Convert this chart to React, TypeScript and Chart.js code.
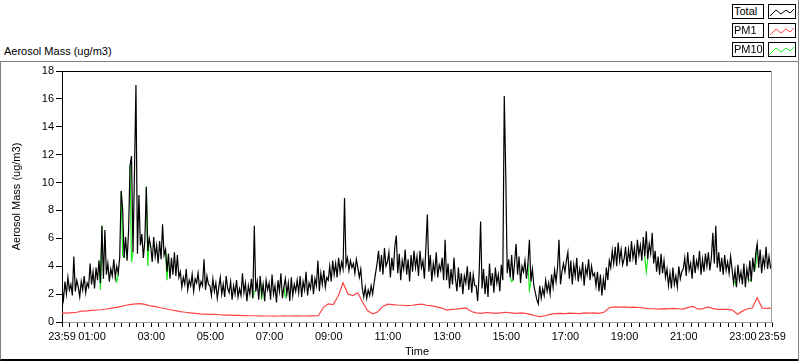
import React, { useEffect, useRef } from 'react';
import { Chart, registerables } from 'chart.js';

Chart.register(...registerables);

// Minutes between samples, counted from the 23:59 start of the axis
const TOTAL_STEP_MIN = 3;
const PM10_STEP_MIN = 3;
const PM1_STEP_MIN = 10;

// Total aerosol mass (ug/m3), one row per hour starting at 23:59
const TOTAL = [
  2.4, 1.6, 2.9, 2.0, 3.2, 2.3, 2.7, 1.9, 4.7, 2.2, 3.0, 2.5, 1.8, 2.9, 2.3, 3.3, 2.1, 2.8, 2.5, 4.2,
  2.7, 3.6, 2.4, 3.9, 3.0, 4.4, 2.8, 6.9, 3.1, 6.6, 3.4, 4.2, 2.9, 3.8, 3.3, 4.5, 3.2, 4.0, 3.5, 4.6,
  9.4, 8.1, 4.6, 6.1, 4.4, 6.5, 11.2, 11.9, 5.0, 10.8, 17.0, 4.9, 9.1, 5.5, 6.3, 4.6, 5.8, 9.7, 5.1, 6.0,
  5.4, 4.3, 6.1, 4.7, 5.5, 4.2, 5.8, 4.5, 7.0, 4.8, 5.2, 3.6, 4.9, 3.1, 4.6, 3.4, 5.0, 3.3, 4.8, 3.2,
  3.6, 2.5, 3.2, 2.7, 3.8, 2.3, 3.0, 2.6, 3.4, 2.2, 3.1, 2.8, 3.5, 2.4, 2.9, 2.6, 4.5, 2.3, 3.3, 2.7,
  2.6, 1.9, 3.1, 2.2, 2.8, 1.7, 2.5, 3.2, 2.0, 2.7, 1.8, 3.3, 2.4, 2.1, 2.9, 1.6, 2.6, 2.0, 3.0, 1.8,
  2.4, 1.9, 3.5, 2.1, 2.8, 1.5, 2.6, 2.0, 3.1, 1.7, 6.9, 2.2, 2.9, 1.6, 3.3, 2.0, 2.7, 1.5, 3.0, 2.3,
  2.8, 1.6, 3.4, 2.0, 2.6, 1.4, 3.0, 2.2, 3.5, 1.7, 2.5, 3.1, 2.0, 2.8, 1.5, 3.2, 1.9, 2.7, 2.2, 3.0,
  2.1, 3.3, 1.8, 2.9, 2.3, 3.6, 1.9, 2.8, 2.4, 3.4, 2.0, 3.1, 2.6, 4.4, 2.2, 3.5, 2.7, 3.7, 2.5, 3.2,
  3.0, 4.0, 2.9, 4.4, 3.4, 4.2, 3.2, 4.6, 3.6, 4.3, 3.8, 8.9, 4.1, 4.6, 3.7, 4.4, 3.9, 4.2, 3.5, 4.5,
  3.9, 3.2, 3.8, 2.4, 1.8, 2.5, 1.7, 2.3, 1.9, 2.6, 2.0, 2.8, 3.5, 4.2, 5.1, 3.6, 4.8, 3.4, 5.3, 4.0,
  4.3, 5.0, 3.2, 4.6, 3.7, 5.4, 6.2, 3.5, 4.9, 3.0, 4.4, 3.8, 5.2, 3.4, 4.5, 2.9, 4.8, 3.6, 5.1, 3.9,
  4.7, 3.3, 5.1, 3.9, 4.4, 3.1, 5.3, 7.7, 3.6, 4.8, 2.9, 4.2, 3.5, 5.0, 3.2, 4.1, 3.7, 4.6, 3.0, 5.9,
  3.0, 4.2, 2.4, 3.8, 2.7, 4.6, 3.1, 2.2, 3.9, 2.5, 3.5, 2.0, 3.3, 2.8, 4.0, 2.3, 3.6, 2.1, 3.4, 2.6,
  2.6, 1.5, 3.4, 7.2, 2.4, 3.8, 2.0, 3.3, 1.8, 4.2, 2.6, 3.5, 2.1, 3.9, 2.8, 3.4, 2.2, 4.1, 3.0, 16.2,
  10.6, 3.5, 4.5, 3.2, 4.8, 3.0, 4.3, 5.6, 3.4, 4.7, 2.8, 4.0, 3.6, 4.4, 3.1, 4.2, 5.9, 2.9, 3.8, 2.6,
  2.1, 1.6, 1.3, 2.6, 1.7, 2.4, 1.9, 3.0, 2.2, 2.8, 2.0, 3.4, 2.5, 3.7, 2.9, 3.9, 5.9, 2.7, 3.6, 4.2,
  3.6, 4.4, 5.0, 3.1, 4.4, 2.7, 4.1, 3.3, 4.6, 2.9, 3.8, 3.2, 4.3, 2.6, 3.9, 3.4, 4.5, 3.0, 4.0, 3.3,
  3.5, 2.6, 3.6, 2.2, 3.4, 1.9, 3.1, 2.3, 3.9, 3.0, 4.4, 3.9, 5.1, 4.2, 5.4, 4.0, 5.7, 4.4, 5.2, 4.1,
  4.5, 5.4, 4.0, 5.2, 4.3, 5.8, 4.6, 5.3, 4.1, 5.9, 4.8, 5.5, 4.4, 6.1, 4.7, 6.5, 4.5, 5.6, 4.9, 6.4,
  4.2, 5.1, 3.6, 4.7, 3.4, 4.9, 3.5, 4.4, 3.2, 3.8, 2.6, 3.5, 2.4, 3.9, 2.7, 3.3, 2.5, 4.0, 3.1, 3.6,
  3.8, 4.6, 3.3, 5.0, 3.7, 4.2, 3.1, 4.8, 3.5, 4.4, 3.9, 5.1, 3.4, 4.5, 3.6, 4.9, 4.0, 5.0, 3.7, 4.6,
  6.4, 4.2, 6.9, 3.9, 5.0, 3.6, 4.6, 3.4, 4.8, 3.7, 4.3, 3.5, 4.7, 3.8, 2.8, 3.7, 2.5, 4.1, 3.0, 3.6,
  2.7, 4.2, 2.5, 3.8, 3.1, 4.4, 2.9, 4.6, 3.6, 4.9, 5.6, 3.9, 5.2, 3.5, 4.6, 4.0, 5.4, 3.8, 4.7, 3.9,
  4.1,
];

// PM10 (ug/m3): runs under Total almost everywhere, dipping below it at a few samples
const PM10 = [
  2.4, 1.6, 2.9, 2.0, 3.2, 2.3, 2.7, 1.9, 4.7, 2.2, 3.0, 2.5, 1.8, 2.9, 2.3, 3.3, 2.1, 2.8, 2.5, 4.2,
  2.7, 3.6, 2.4, 3.9, 3.0, 4.4, 2.3, 6.9, 3.1, 6.6, 3.4, 4.2, 2.9, 3.8, 3.3, 4.5, 3.2, 2.9, 3.5, 4.6,
  9.4, 4.8, 4.6, 6.1, 4.4, 6.5, 11.2, 4.3, 5.0, 10.8, 17.0, 4.9, 9.1, 5.5, 6.3, 4.6, 5.8, 9.7, 4.0, 6.0,
  5.4, 4.3, 6.1, 4.7, 5.5, 4.2, 5.8, 4.5, 7.0, 4.8, 5.2, 3.0, 4.9, 3.1, 4.6, 3.4, 5.0, 3.3, 4.8, 3.2,
  3.6, 2.5, 3.2, 2.7, 3.8, 2.3, 3.0, 2.6, 3.4, 2.2, 3.1, 2.8, 3.5, 2.4, 2.9, 2.6, 4.5, 2.3, 3.3, 2.7,
  2.6, 1.9, 3.1, 2.2, 2.8, 1.7, 2.5, 3.2, 2.0, 2.7, 1.8, 3.3, 2.4, 2.1, 2.9, 1.6, 2.6, 2.0, 3.0, 1.8,
  2.4, 1.9, 3.5, 2.1, 2.8, 1.5, 2.6, 2.0, 3.1, 1.7, 2.2, 2.2, 2.9, 1.6, 3.3, 1.6, 2.7, 1.5, 3.0, 2.3,
  2.8, 1.6, 3.4, 2.0, 2.6, 1.4, 3.0, 2.2, 3.5, 1.7, 2.5, 1.8, 2.0, 2.8, 1.5, 3.2, 1.9, 2.7, 2.2, 3.0,
  2.1, 3.3, 1.8, 2.9, 2.3, 3.6, 1.9, 2.8, 2.4, 3.4, 2.0, 3.1, 2.6, 4.4, 2.2, 3.5, 2.7, 3.7, 2.5, 3.2,
  3.0, 4.0, 2.9, 4.4, 3.4, 4.2, 3.2, 4.6, 3.6, 4.3, 3.8, 8.9, 4.1, 4.6, 3.7, 4.4, 3.9, 4.2, 3.5, 4.5,
  3.9, 3.2, 3.8, 2.4, 1.8, 2.5, 1.7, 2.3, 1.9, 2.6, 2.0, 2.8, 3.5, 4.2, 5.1, 3.6, 4.8, 3.4, 5.3, 4.0,
  4.3, 5.0, 3.2, 4.6, 3.7, 5.4, 6.2, 3.5, 4.9, 3.0, 4.4, 3.8, 5.2, 3.4, 4.5, 2.9, 4.8, 3.6, 5.1, 3.9,
  4.7, 3.3, 5.1, 3.9, 4.4, 3.1, 5.3, 7.7, 3.6, 4.8, 2.9, 4.2, 3.5, 5.0, 3.2, 4.1, 3.7, 4.6, 3.0, 5.9,
  3.0, 4.2, 2.4, 3.8, 2.7, 4.6, 3.1, 2.2, 3.9, 2.5, 3.5, 2.0, 3.3, 2.8, 4.0, 2.3, 3.6, 2.1, 3.4, 2.6,
  2.6, 1.5, 3.4, 7.2, 2.4, 3.8, 2.0, 3.3, 1.8, 4.2, 2.6, 3.5, 2.1, 3.9, 2.8, 3.4, 2.2, 4.1, 3.0, 16.2,
  10.6, 3.5, 4.5, 3.2, 2.9, 3.0, 4.3, 5.6, 3.4, 4.7, 2.8, 4.0, 3.6, 4.4, 3.1, 4.2, 2.3, 2.9, 3.8, 2.6,
  2.1, 1.6, 1.3, 2.6, 1.7, 2.4, 1.9, 3.0, 2.2, 2.8, 2.0, 3.4, 2.5, 3.7, 2.9, 3.9, 5.9, 2.7, 3.6, 4.2,
  3.6, 4.4, 5.0, 3.1, 4.4, 2.7, 4.1, 3.3, 4.6, 2.9, 3.8, 3.2, 4.3, 2.6, 3.9, 3.4, 4.5, 3.0, 4.0, 3.3,
  3.5, 2.6, 3.6, 2.2, 3.4, 1.9, 3.1, 2.3, 3.9, 3.0, 4.4, 3.9, 5.1, 4.2, 5.4, 4.0, 5.7, 4.4, 5.2, 4.1,
  4.5, 5.4, 4.0, 5.2, 4.3, 5.8, 4.6, 5.3, 4.1, 5.9, 4.8, 5.5, 4.4, 6.1, 4.7, 3.6, 4.5, 5.6, 4.9, 6.4,
  4.2, 5.1, 3.6, 4.7, 3.4, 4.9, 3.5, 4.4, 3.2, 3.8, 2.6, 3.5, 2.4, 3.9, 2.7, 3.3, 2.5, 4.0, 3.1, 3.6,
  3.8, 4.6, 3.3, 5.0, 3.7, 4.2, 3.1, 4.8, 3.5, 4.4, 3.9, 5.1, 3.4, 4.5, 3.6, 4.9, 4.0, 5.0, 3.7, 4.6,
  6.4, 4.2, 6.9, 3.9, 5.0, 3.6, 4.6, 3.4, 4.8, 3.7, 4.3, 3.5, 4.7, 3.8, 2.8, 2.9, 2.5, 4.1, 3.0, 3.6,
  2.7, 4.2, 2.5, 3.8, 3.1, 3.0, 2.9, 4.6, 3.6, 4.0, 5.6, 3.9, 5.2, 3.5, 4.6, 4.0, 5.4, 3.8, 4.7, 3.9,
  4.1,
];

// PM1 (ug/m3), every 10 minutes
const PM1 = [
  0.65, 0.64, 0.67, 0.70, 0.78, 0.80, 0.84, 0.86, 0.88, 0.93, 1.00, 1.05,
  1.12, 1.20, 1.26, 1.30, 1.32, 1.25, 1.15, 1.10, 1.02, 0.95, 0.88, 0.82,
  0.75, 0.70, 0.66, 0.62, 0.58, 0.57, 0.55, 0.54, 0.52, 0.50, 0.49, 0.48,
  0.47, 0.46, 0.45, 0.45, 0.44, 0.43, 0.43, 0.42, 0.43, 0.44, 0.43, 0.44,
  0.44, 0.43, 0.44, 0.44, 0.45, 1.05, 1.30, 1.25, 1.85, 2.80, 2.00, 1.90,
  2.10, 1.40, 0.80, 0.58, 0.72, 1.10, 1.28, 1.25, 1.22, 1.20, 1.18, 1.20,
  1.25, 1.28, 1.20, 1.15, 1.08, 1.00, 0.85, 0.90, 0.92, 0.98, 1.00, 0.75,
  0.65, 0.62, 0.68, 0.65, 0.62, 0.66, 0.70, 0.66, 0.62, 0.66, 0.62, 0.55,
  0.45, 0.38, 0.45, 0.55, 0.60, 0.62, 0.60, 0.64, 0.62, 0.60, 0.65, 0.63,
  0.66, 0.62, 0.72, 1.02, 1.08, 1.06, 1.08, 1.05, 1.07, 1.04, 1.00, 0.96,
  0.95, 0.92, 0.96, 0.94, 0.98, 0.95, 0.92, 1.05, 1.12, 0.92, 0.96, 1.08,
  0.96, 0.90, 0.90, 0.90, 0.85, 0.55, 0.78, 0.95, 1.00, 1.75, 1.00, 0.98,
  1.00,
];

const SERIES_NAMES = ['Total', 'PM1', 'PM10'];
const SERIES_COLORS = ['#000000', '#ff4444', '#1eea1e'];

const X_LABELS = ['23:59', '01:00', '03:00', '05:00', '07:00', '09:00', '11:00',
  '13:00', '15:00', '17:00', '19:00', '21:00', '23:00', '23:59'];
const X_LABEL_MINUTES = [0, 61, 181, 301, 421, 541, 661, 781, 901, 1021, 1141, 1261, 1381, 1440];
const X_SPAN_MIN = 1440;
const Y_MIN = 0;
const Y_MAX = 18;
const Y_STEP = 2;

const Y_TITLE = 'Aerosol Mass (ug/m3)';
const X_TITLE = 'Time';
const FONT = '"Liberation Sans", Arial, sans-serif';

const toPoints = (vals: number[], step: number) => vals.map((y, i) => ({ x: i * step, y }));

// PM10 segments lying exactly under the Total trace are covered by it in the original plot
const pm10Hidden = (i: number) => PM10[i] === TOTAL[i];

const frameLines = {
  id: 'frameLines',
  afterDraw(chart: any) {
    const { ctx, chartArea: a } = chart;
    ctx.save();
    ctx.lineWidth = 1;
    ctx.strokeStyle = '#000';
    ctx.beginPath();
    ctx.moveTo(a.left, a.top + 0.5);
    ctx.lineTo(a.right, a.top + 0.5);
    ctx.stroke();
    ctx.strokeStyle = '#a0a0a0';
    ctx.beginPath();
    ctx.moveTo(a.right - 0.5, a.top);
    ctx.lineTo(a.right - 0.5, a.bottom);
    ctx.stroke();
    ctx.restore();
  },
};

const Zig = ({ color }: { color: string }) => (
  <svg width={26} height={12} style={{ display: 'block' }}>
    <polyline points="1,10 7,4 12,8 17,4 21,7 25,3" fill="none" stroke={color} strokeWidth={1} />
  </svg>
);

export default function App() {
  const ref = useRef<HTMLCanvasElement | null>(null);

  useEffect(() => {
    if (!ref.current) return;
    const minorTicks: number[] = [0];
    for (let m = 16; m < X_SPAN_MIN; m += 15) minorTicks.push(m);
    minorTicks.push(X_SPAN_MIN);

    const font = { family: FONT, size: 11 };
    const chart = new Chart(ref.current, {
      type: 'line',
      data: {
        datasets: [
          { label: SERIES_NAMES[0], data: toPoints(TOTAL, TOTAL_STEP_MIN), borderColor: SERIES_COLORS[0], borderWidth: 1.2 },
          { label: SERIES_NAMES[1], data: toPoints(PM1, PM1_STEP_MIN), borderColor: SERIES_COLORS[1], borderWidth: 1.2 },
          {
            label: SERIES_NAMES[2],
            data: toPoints(PM10, PM10_STEP_MIN),
            borderColor: SERIES_COLORS[2],
            borderWidth: 1.2,
            segment: {
              borderColor: (ctx: any) =>
                pm10Hidden(ctx.p0DataIndex) && pm10Hidden(ctx.p1DataIndex) ? 'rgba(0,0,0,0)' : undefined,
            },
          },
        ].map((d) => ({ ...d, pointRadius: 0, tension: 0, fill: false })),
      },
      options: {
        animation: false,
        responsive: false,
        maintainAspectRatio: false,
        layout: { padding: { top: 71, right: 28, left: 0, bottom: 0 } },
        plugins: { legend: { display: false }, tooltip: { enabled: false } },
        scales: {
          x: {
            type: 'linear',
            min: 0,
            max: X_SPAN_MIN,
            afterBuildTicks: (axis: any) => {
              axis.ticks = minorTicks.map((v) => ({ value: v }));
            },
            afterFit: (axis: any) => {
              axis.height = 39;
            },
            ticks: {
              autoSkip: false,
              maxRotation: 0,
              minRotation: 0,
              padding: 3,
              color: '#000',
              font,
              callback: (value: any) => {
                const i = X_LABEL_MINUTES.indexOf(Number(value));
                return i >= 0 ? X_LABELS[i] : '';
              },
            },
            grid: { display: true, drawOnChartArea: false, drawTicks: true, tickLength: 5, tickColor: '#000' },
            border: { display: true, color: '#a0a0a0' },
            title: { display: true, text: X_TITLE, color: '#000', font, padding: { top: 0, bottom: 2 } },
          },
          y: {
            min: Y_MIN,
            max: Y_MAX,
            afterFit: (axis: any) => {
              axis.width = 62;
            },
            ticks: { stepSize: Y_STEP, padding: 2, color: '#000', font },
            grid: { display: true, drawOnChartArea: false, drawTicks: true, tickLength: 6, tickColor: '#000' },
            border: { display: true, color: '#000' },
            title: { display: true, text: Y_TITLE, color: '#000', font, padding: { top: 10, bottom: 0 } },
          },
        },
      },
      plugins: [frameLines],
    } as any);
    return () => chart.destroy();
  }, []);

  const legendRowTops = [4, 23, 42];
  return (
    <div style={{ position: 'absolute', left: 0, top: 0, width: 800, height: 361, background: '#fff', fontFamily: FONT, overflow: 'hidden' }}>
      <div style={{ position: 'absolute', left: 0, top: 61, width: 798, height: 297, borderTop: '1px solid #808080', borderLeft: '1px solid #808080', borderBottom: '2px solid #000' }} />
      <div style={{ position: 'absolute', left: 798, top: 0, width: 1, height: 361, background: '#808080' }} />
      <div style={{ position: 'absolute', left: 4, top: 45, fontSize: 11, color: '#000', whiteSpace: 'nowrap' }}>{Y_TITLE}</div>
      <canvas ref={ref} width={800} height={361} style={{ position: 'absolute', left: 0, top: 0, width: 800, height: 361 }} />
      {SERIES_NAMES.map((name, i) => (
        <React.Fragment key={name}>
          <div style={{ position: 'absolute', left: 732, top: legendRowTops[i], width: 29, height: 13, border: '1px solid #000', fontSize: 11, lineHeight: '13px', paddingLeft: 1, boxSizing: 'content-box', color: '#000', background: '#fff', whiteSpace: 'nowrap', overflow: 'hidden' }}>{name}</div>
          <div style={{ position: 'absolute', left: 768, top: legendRowTops[i], width: 26, height: 12, border: '1px solid #000', paddingTop: 1, background: '#fff' }}>
            <Zig color={SERIES_COLORS[i]} />
          </div>
        </React.Fragment>
      ))}
    </div>
  );
}
